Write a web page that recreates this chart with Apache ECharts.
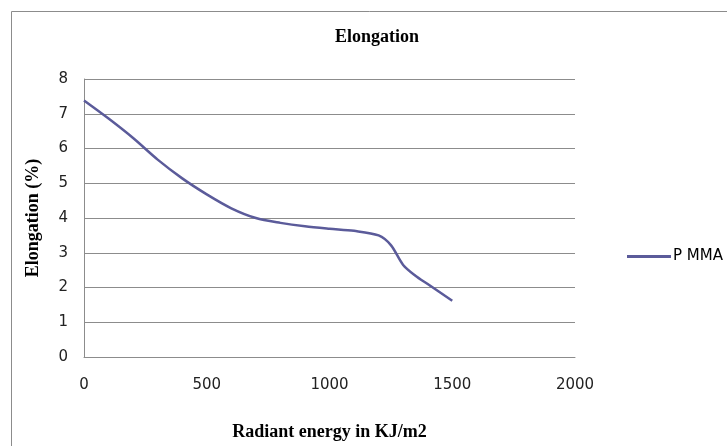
<!DOCTYPE html>
<html>
<head>
<meta charset="utf-8">
<script src="https://cdn.jsdelivr.net/npm/echarts@6/dist/echarts.min.js"></script>
<style>html,body{margin:0;padding:0;background:#fff}#c{width:727px;height:446px}</style>
</head>
<body>
<div id="c"></div>
<script>
const radiantEnergy = [0, 100, 200, 300, 400, 500, 600, 700, 800, 900, 1000, 1100, 1200, 1250, 1300, 1350, 1400, 1500];
const elongation = [7.38, 6.86, 6.3, 5.68, 5.14, 4.68, 4.28, 4.0, 3.86, 3.76, 3.69, 3.63, 3.5, 3.22, 2.65, 2.34, 2.1, 1.62];
const seriesName = 'P MMA';
const xTicks = [0, 500, 1000, 1500, 2000];
const yTicks = [0, 1, 2, 3, 4, 5, 6, 7, 8];

const chart = echarts.init(document.getElementById('c'));
const points = radiantEnergy.map((x, i) => [x, elongation[i]]);
const lineColor = '#5b5b9a';
chart.setOption({
  animation: false,
  backgroundColor: '#fff',
  title: {
    text: 'Elongation', left: 372, top: 23, textAlign: 'center',
    textStyle: { fontFamily: 'Liberation Serif', fontWeight: 'bold', fontSize: 18, color: '#000' }
  },
  legend: {
    left: 622, top: 244, itemWidth: 44, itemHeight: 3, itemGap: 4,
    data: [{ name: seriesName, icon: 'rect' }],
    textStyle: { fontFamily: 'DejaVu Sans', fontSize: 15, color: '#000', padding: [0, 0, 0, -3] }
  },
  grid: { left: 84, right: 152, top: 79, bottom: 87 },
  xAxis: {
    type: 'value', min: xTicks[0], max: xTicks[xTicks.length - 1], interval: 500,
    name: 'Radiant energy in KJ/m2', nameLocation: 'middle', nameGap: 66,
    nameTextStyle: { fontFamily: 'Liberation Serif', fontWeight: 'bold', fontSize: 18, color: '#000' },
    axisLine: { lineStyle: { color: '#8c8c8c', width: 1 } },
    axisTick: { show: false },
    axisLabel: { margin: 21, fontFamily: 'DejaVu Sans', fontSize: 15, color: '#222', formatter: v => String(v) },
    splitLine: { show: false }
  },
  yAxis: {
    type: 'value', min: yTicks[0], max: yTicks[yTicks.length - 1], interval: 1,
    name: 'Elongation (%)', nameLocation: 'middle', nameGap: 42, nameRotate: 90,
    nameTextStyle: { fontFamily: 'Liberation Serif', fontWeight: 'bold', fontSize: 18, color: '#000' },
    axisLine: { show: true, lineStyle: { color: '#8c8c8c', width: 1 } },
    axisTick: { show: false },
    axisLabel: { margin: 16, fontFamily: 'DejaVu Sans', fontSize: 15, color: '#222', formatter: v => String(v) },
    splitLine: { show: true, lineStyle: { color: '#8c8c8c', width: 1 } }
  },
  graphic: [{
    type: 'rect', shape: { x: 11.5, y: 11.5, width: 800, height: 500 },
    style: { fill: 'none', stroke: '#8c8c8c', lineWidth: 1 }, silent: true, z: -1
  }],
  series: [{
    name: seriesName, type: 'line', data: points, smooth: 0.3,
    showSymbol: false, symbol: 'none',
    lineStyle: { color: lineColor, width: 2.5 }, itemStyle: { color: lineColor }
  }]
});
</script>
</body>
</html>
